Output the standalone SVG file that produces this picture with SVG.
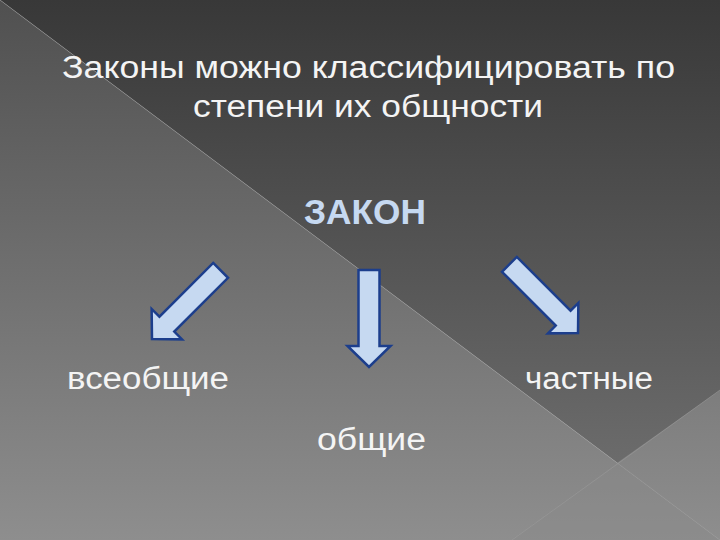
<svg xmlns="http://www.w3.org/2000/svg" width="720" height="540" viewBox="0 0 720 540">
<defs>
<linearGradient id="gLow" x1="0" y1="0" x2="0" y2="540" gradientUnits="userSpaceOnUse">
<stop offset="0" stop-color="#505050"/>
<stop offset="1" stop-color="#8e8e8e"/>
</linearGradient>
<linearGradient id="gUp" x1="0" y1="0" x2="0" y2="540" gradientUnits="userSpaceOnUse">
<stop offset="0" stop-color="#383838"/>
<stop offset="1" stop-color="#747474"/>
</linearGradient>
<polygon id="arrowShape" points="-10.5,-97 10.5,-97 10.5,-21 21.5,-21 0,0 -21.5,-21 -10.5,-21"/>
</defs>
<style>
.t{font-family:"Liberation Sans","DejaVu Sans",sans-serif;fill:#f4f4f4;font-size:31px}
.k{font-family:"Liberation Sans","DejaVu Sans",sans-serif;fill:#c6d9f1;font-size:35px;font-weight:bold}
.arr{fill:#c6d9f1;stroke:#1c3e8c;stroke-width:2.5;stroke-linejoin:miter}
.hl{stroke:#a0a0a0;stroke-opacity:0.45;stroke-width:1;fill:none}
</style>
<g id="background">
<polygon points="0,0 720,540 0,540" fill="url(#gLow)"/>
<polygon points="0,0 720,0 720,540" fill="url(#gUp)"/>
<polygon points="720,390 617,463 720,540" fill="url(#gLow)"/>
<polygon points="617,463 512,540 720,540" fill="#8a8a8a" fill-opacity="0.35"/>
<line class="hl" x1="0" y1="0" x2="720" y2="540"/>
<line class="hl" x1="720" y1="390" x2="512" y2="540"/>
</g>
<g id="title">
<text class="t" x="62" y="78" textLength="613" lengthAdjust="spacingAndGlyphs">Законы можно классифицировать по</text>
<text class="t" x="193" y="117" textLength="350" lengthAdjust="spacingAndGlyphs">степени их общности</text>
</g>
<g id="node-zakon">
<text class="k" x="304" y="224" textLength="122" lengthAdjust="spacingAndGlyphs">ЗАКОН</text>
</g>
<g id="connectors">
<use href="#arrowShape" class="arr" transform="translate(152,339) rotate(45)"/>
<use href="#arrowShape" class="arr" transform="translate(369,367)"/>
<use href="#arrowShape" class="arr" transform="translate(578,333) rotate(-45)"/>
</g>
<g id="node-vseobshchie">
<text class="t" x="67" y="389" textLength="162" lengthAdjust="spacingAndGlyphs">всеобщие</text>
</g>
<g id="node-chastnye">
<text class="t" x="525" y="389" textLength="128" lengthAdjust="spacingAndGlyphs">частные</text>
</g>
<g id="node-obshchie">
<text class="t" x="317" y="450" textLength="109" lengthAdjust="spacingAndGlyphs">общие</text>
</g>
</svg>
